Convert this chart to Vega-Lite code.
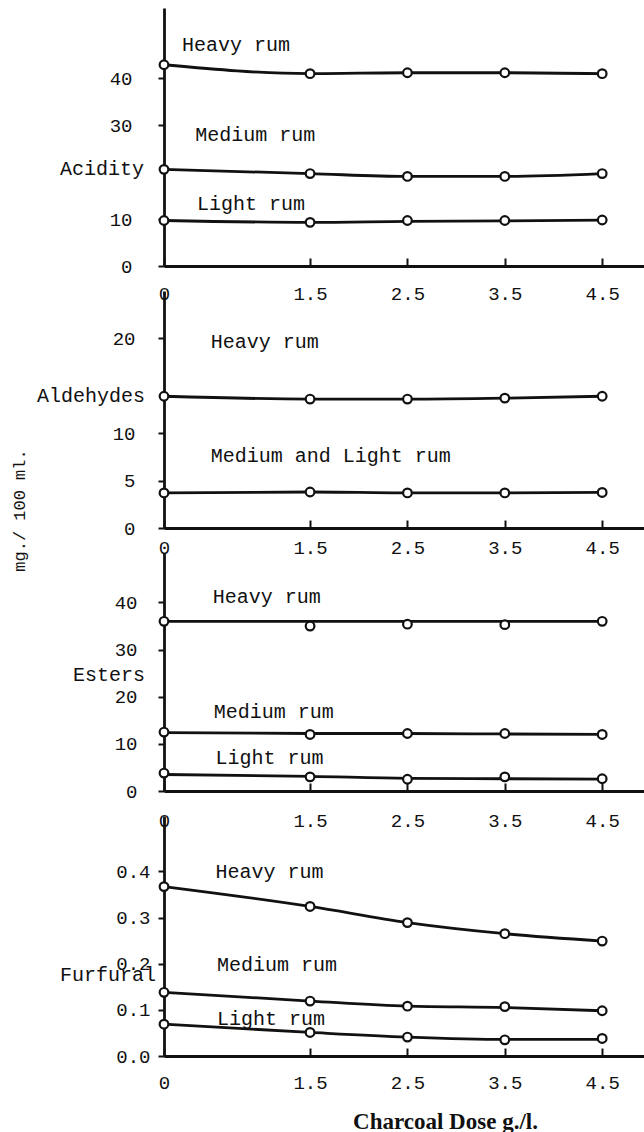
{
  "$schema": "https://vega.github.io/schema/vega-lite/v6.json",
  "background": "white",
  "padding": {"left": 10, "top": 8, "right": 0, "bottom": 0},
  "bounds": "flush",
  "spacing": 25,
  "datasets": {
    "points": [
      {"panel": "Acidity", "series": "Heavy rum", "dose": 0, "value": 42.9, "curve": 42.9},
      {"panel": "Acidity", "series": "Heavy rum", "dose": 1.5, "value": 41.0, "curve": 41.0},
      {"panel": "Acidity", "series": "Heavy rum", "dose": 2.5, "value": 41.2, "curve": 41.2},
      {"panel": "Acidity", "series": "Heavy rum", "dose": 3.5, "value": 41.2, "curve": 41.2},
      {"panel": "Acidity", "series": "Heavy rum", "dose": 4.5, "value": 41.0, "curve": 41.0},
      {"panel": "Acidity", "series": "Medium rum", "dose": 0, "value": 20.6, "curve": 20.6},
      {"panel": "Acidity", "series": "Medium rum", "dose": 1.5, "value": 19.7, "curve": 19.7},
      {"panel": "Acidity", "series": "Medium rum", "dose": 2.5, "value": 19.1, "curve": 19.1},
      {"panel": "Acidity", "series": "Medium rum", "dose": 3.5, "value": 19.1, "curve": 19.1},
      {"panel": "Acidity", "series": "Medium rum", "dose": 4.5, "value": 19.7, "curve": 19.7},
      {"panel": "Acidity", "series": "Light rum", "dose": 0, "value": 9.7, "curve": 9.7},
      {"panel": "Acidity", "series": "Light rum", "dose": 1.5, "value": 9.3, "curve": 9.3},
      {"panel": "Acidity", "series": "Light rum", "dose": 2.5, "value": 9.7, "curve": 9.5},
      {"panel": "Acidity", "series": "Light rum", "dose": 3.5, "value": 9.7, "curve": 9.6},
      {"panel": "Acidity", "series": "Light rum", "dose": 4.5, "value": 9.8, "curve": 9.8},
      {"panel": "Aldehydes", "series": "Heavy rum", "dose": 0, "value": 13.9, "curve": 13.9},
      {"panel": "Aldehydes", "series": "Heavy rum", "dose": 1.5, "value": 13.6, "curve": 13.6},
      {"panel": "Aldehydes", "series": "Heavy rum", "dose": 2.5, "value": 13.6, "curve": 13.6},
      {"panel": "Aldehydes", "series": "Heavy rum", "dose": 3.5, "value": 13.7, "curve": 13.7},
      {"panel": "Aldehydes", "series": "Heavy rum", "dose": 4.5, "value": 13.9, "curve": 13.9},
      {"panel": "Aldehydes", "series": "Medium and Light rum", "dose": 0, "value": 3.7, "curve": 3.7},
      {"panel": "Aldehydes", "series": "Medium and Light rum", "dose": 1.5, "value": 3.8, "curve": 3.8},
      {"panel": "Aldehydes", "series": "Medium and Light rum", "dose": 2.5, "value": 3.7, "curve": 3.7},
      {"panel": "Aldehydes", "series": "Medium and Light rum", "dose": 3.5, "value": 3.7, "curve": 3.7},
      {"panel": "Aldehydes", "series": "Medium and Light rum", "dose": 4.5, "value": 3.75, "curve": 3.75},
      {"panel": "Esters", "series": "Heavy rum", "dose": 0, "value": 36.0, "curve": 36.0},
      {"panel": "Esters", "series": "Heavy rum", "dose": 1.5, "value": 35.0, "curve": 36.0},
      {"panel": "Esters", "series": "Heavy rum", "dose": 2.5, "value": 35.4, "curve": 36.0},
      {"panel": "Esters", "series": "Heavy rum", "dose": 3.5, "value": 35.3, "curve": 36.0},
      {"panel": "Esters", "series": "Heavy rum", "dose": 4.5, "value": 36.0, "curve": 36.0},
      {"panel": "Esters", "series": "Medium rum", "dose": 0, "value": 12.5, "curve": 12.4},
      {"panel": "Esters", "series": "Medium rum", "dose": 1.5, "value": 12.0, "curve": 12.2},
      {"panel": "Esters", "series": "Medium rum", "dose": 2.5, "value": 12.2, "curve": 12.2},
      {"panel": "Esters", "series": "Medium rum", "dose": 3.5, "value": 12.2, "curve": 12.1},
      {"panel": "Esters", "series": "Medium rum", "dose": 4.5, "value": 12.0, "curve": 12.0},
      {"panel": "Esters", "series": "Light rum", "dose": 0, "value": 3.8, "curve": 3.5},
      {"panel": "Esters", "series": "Light rum", "dose": 1.5, "value": 3.0, "curve": 3.1},
      {"panel": "Esters", "series": "Light rum", "dose": 2.5, "value": 2.5, "curve": 2.7},
      {"panel": "Esters", "series": "Light rum", "dose": 3.5, "value": 3.0, "curve": 2.6},
      {"panel": "Esters", "series": "Light rum", "dose": 4.5, "value": 2.6, "curve": 2.5},
      {"panel": "Furfural", "series": "Heavy rum", "dose": 0, "value": 0.367, "curve": 0.367},
      {"panel": "Furfural", "series": "Heavy rum", "dose": 1.5, "value": 0.324, "curve": 0.324},
      {"panel": "Furfural", "series": "Heavy rum", "dose": 2.5, "value": 0.289, "curve": 0.289},
      {"panel": "Furfural", "series": "Heavy rum", "dose": 3.5, "value": 0.265, "curve": 0.265},
      {"panel": "Furfural", "series": "Heavy rum", "dose": 4.5, "value": 0.249, "curve": 0.249},
      {"panel": "Furfural", "series": "Medium rum", "dose": 0, "value": 0.138, "curve": 0.138},
      {"panel": "Furfural", "series": "Medium rum", "dose": 1.5, "value": 0.119, "curve": 0.119},
      {"panel": "Furfural", "series": "Medium rum", "dose": 2.5, "value": 0.108, "curve": 0.108},
      {"panel": "Furfural", "series": "Medium rum", "dose": 3.5, "value": 0.107, "curve": 0.105},
      {"panel": "Furfural", "series": "Medium rum", "dose": 4.5, "value": 0.098, "curve": 0.098},
      {"panel": "Furfural", "series": "Light rum", "dose": 0, "value": 0.069, "curve": 0.069},
      {"panel": "Furfural", "series": "Light rum", "dose": 1.5, "value": 0.051, "curve": 0.051},
      {"panel": "Furfural", "series": "Light rum", "dose": 2.5, "value": 0.041, "curve": 0.041},
      {"panel": "Furfural", "series": "Light rum", "dose": 3.5, "value": 0.035, "curve": 0.036},
      {"panel": "Furfural", "series": "Light rum", "dose": 4.5, "value": 0.038, "curve": 0.036}
    ],
    "notes": [
      {"panel": "Acidity", "kind": "series", "label": "Heavy rum", "dose": 0.185, "value": 47.2},
      {"panel": "Acidity", "kind": "series", "label": "Medium rum", "dose": 0.32, "value": 27.9},
      {"panel": "Acidity", "kind": "series", "label": "Light rum", "dose": 0.34, "value": 13.2},
      {"panel": "Acidity", "kind": "measure", "label": "Acidity", "dose": 0, "value": 20.6},
      {"panel": "Aldehydes", "kind": "series", "label": "Heavy rum", "dose": 0.48, "value": 19.6},
      {"panel": "Aldehydes", "kind": "series", "label": "Medium and Light rum", "dose": 0.48, "value": 7.6},
      {"panel": "Aldehydes", "kind": "measure", "label": "Aldehydes", "dose": 0, "value": 13.9},
      {"panel": "Esters", "kind": "series", "label": "Heavy rum", "dose": 0.5, "value": 41.1},
      {"panel": "Esters", "kind": "series", "label": "Medium rum", "dose": 0.51, "value": 16.8},
      {"panel": "Esters", "kind": "series", "label": "Light rum", "dose": 0.53, "value": 6.9},
      {"panel": "Esters", "kind": "measure", "label": "Esters", "dose": 0, "value": 24.6},
      {"panel": "Furfural", "kind": "series", "label": "Heavy rum", "dose": 0.53, "value": 0.398},
      {"panel": "Furfural", "kind": "series", "label": "Medium rum", "dose": 0.545, "value": 0.197},
      {"panel": "Furfural", "kind": "series", "label": "Light rum", "dose": 0.545, "value": 0.08},
      {"panel": "Furfural", "kind": "measure", "label": "Furfural", "dose": 0, "value": 0.176}
    ]
  },
  "vconcat": [
    {
      "width": 482, "height": 258,
      "layer": [
        {
          "data": {"name": "points"},
          "transform": [{"filter": "datum.panel === 'Acidity'"}],
          "mark": {"type": "line", "interpolate": "monotone", "color": "#111111", "strokeWidth": 2.8},
          "encoding": {
            "x": {"field": "dose", "type": "quantitative", "scale": {"domain": [0, 4.95], "nice": false, "zero": false},
                  "axis": {"values": [0, 1.5, 2.5, 3.5, 4.5], "labelExpr": "datum.value == 0 ? '0' : format(datum.value, '.1f')", "labelPadding": 35, "title": null}},
            "y": {"field": "curve", "type": "quantitative", "scale": {"domain": [0, 55], "nice": false},
                  "axis": {"values": [0, 10, 30, 40], "format": "d", "labelPadding": 26, "title": null}},
            "detail": {"field": "series"}
          }
        },
        {
          "data": {"name": "points"},
          "transform": [{"filter": "datum.panel === 'Acidity'"}],
          "mark": {"type": "point", "shape": "circle", "filled": true, "fill": "white", "stroke": "#111111", "strokeWidth": 2.2, "size": 75, "opacity": 1},
          "encoding": {
            "x": {"field": "dose", "type": "quantitative"},
            "y": {"field": "value", "type": "quantitative"}
          }
        },
        {
          "data": {"name": "notes"},
          "transform": [{"filter": "datum.panel === 'Acidity' && datum.kind === 'series'"}],
          "mark": {"type": "text", "align": "left", "baseline": "middle"},
          "encoding": {
            "x": {"field": "dose", "type": "quantitative"},
            "y": {"field": "value", "type": "quantitative"},
            "text": {"field": "label"}
          }
        },
        {
          "data": {"name": "notes"},
          "transform": [{"filter": "datum.panel === 'Acidity' && datum.kind === 'measure'"}],
          "mark": {"type": "text", "align": "right", "baseline": "middle", "dx": -20},
          "encoding": {
            "x": {"field": "dose", "type": "quantitative"},
            "y": {"field": "value", "type": "quantitative"},
            "text": {"field": "label"}
          }
        }
      ]
    },
    {
      "width": 482, "height": 237,
      "layer": [
        {
          "data": {"name": "points"},
          "transform": [{"filter": "datum.panel === 'Aldehydes'"}],
          "mark": {"type": "line", "interpolate": "monotone", "color": "#111111", "strokeWidth": 2.8},
          "encoding": {
            "x": {"field": "dose", "type": "quantitative", "scale": {"domain": [0, 4.95], "nice": false, "zero": false},
                  "axis": {"values": [0, 1.5, 2.5, 3.5, 4.5], "labelExpr": "datum.value == 0 ? '0' : format(datum.value, '.1f')", "labelPadding": 27, "title": null}},
            "y": {"field": "curve", "type": "quantitative", "scale": {"domain": [0, 25], "nice": false},
                  "axis": {"values": [0, 5, 10, 20], "format": "d", "labelPadding": 23,
                           "title": "mg./ 100 ml.", "titleX": -145, "titleY": 219, "titleBaseline": "middle", "titleAlign": "center",
                           "titleFont": "Liberation Mono", "titleFontSize": 17, "titleFontWeight": "normal", "titleColor": "#111111"}},
            "detail": {"field": "series"}
          }
        },
        {
          "data": {"name": "points"},
          "transform": [{"filter": "datum.panel === 'Aldehydes'"}],
          "mark": {"type": "point", "shape": "circle", "filled": true, "fill": "white", "stroke": "#111111", "strokeWidth": 2.2, "size": 75, "opacity": 1},
          "encoding": {
            "x": {"field": "dose", "type": "quantitative"},
            "y": {"field": "value", "type": "quantitative"}
          }
        },
        {
          "data": {"name": "notes"},
          "transform": [{"filter": "datum.panel === 'Aldehydes' && datum.kind === 'series'"}],
          "mark": {"type": "text", "align": "left", "baseline": "middle"},
          "encoding": {
            "x": {"field": "dose", "type": "quantitative"},
            "y": {"field": "value", "type": "quantitative"},
            "text": {"field": "label"}
          }
        },
        {
          "data": {"name": "notes"},
          "transform": [{"filter": "datum.panel === 'Aldehydes' && datum.kind === 'measure'"}],
          "mark": {"type": "text", "align": "right", "baseline": "middle", "dx": -19},
          "encoding": {
            "x": {"field": "dose", "type": "quantitative"},
            "y": {"field": "value", "type": "quantitative"},
            "text": {"field": "label"}
          }
        }
      ]
    },
    {
      "width": 482, "height": 238,
      "layer": [
        {
          "data": {"name": "points"},
          "transform": [{"filter": "datum.panel === 'Esters'"}],
          "mark": {"type": "line", "interpolate": "monotone", "color": "#111111", "strokeWidth": 2.8},
          "encoding": {
            "x": {"field": "dose", "type": "quantitative", "scale": {"domain": [0, 4.95], "nice": false, "zero": false},
                  "axis": {"values": [0, 1.5, 2.5, 3.5, 4.5], "labelExpr": "datum.value == 0 ? '0' : format(datum.value, '.1f')", "labelPadding": 37, "title": null}},
            "y": {"field": "curve", "type": "quantitative", "scale": {"domain": [0, 50.5], "nice": false},
                  "axis": {"values": [0, 10, 20, 30, 40], "format": "d", "labelPadding": 21, "title": null}},
            "detail": {"field": "series"}
          }
        },
        {
          "data": {"name": "points"},
          "transform": [{"filter": "datum.panel === 'Esters'"}],
          "mark": {"type": "point", "shape": "circle", "filled": true, "fill": "white", "stroke": "#111111", "strokeWidth": 2.2, "size": 75, "opacity": 1},
          "encoding": {
            "x": {"field": "dose", "type": "quantitative"},
            "y": {"field": "value", "type": "quantitative"}
          }
        },
        {
          "data": {"name": "notes"},
          "transform": [{"filter": "datum.panel === 'Esters' && datum.kind === 'series'"}],
          "mark": {"type": "text", "align": "left", "baseline": "middle"},
          "encoding": {
            "x": {"field": "dose", "type": "quantitative"},
            "y": {"field": "value", "type": "quantitative"},
            "text": {"field": "label"}
          }
        },
        {
          "data": {"name": "notes"},
          "transform": [{"filter": "datum.panel === 'Esters' && datum.kind === 'measure'"}],
          "mark": {"type": "text", "align": "right", "baseline": "middle", "dx": -19},
          "encoding": {
            "x": {"field": "dose", "type": "quantitative"},
            "y": {"field": "value", "type": "quantitative"},
            "text": {"field": "label"}
          }
        }
      ]
    },
    {
      "width": 482, "height": 240,
      "layer": [
        {
          "data": {"name": "points"},
          "transform": [{"filter": "datum.panel === 'Furfural'"}],
          "mark": {"type": "line", "interpolate": "monotone", "color": "#111111", "strokeWidth": 2.8},
          "encoding": {
            "x": {"field": "dose", "type": "quantitative", "scale": {"domain": [0, 4.95], "nice": false, "zero": false},
                  "axis": {"values": [0, 1.5, 2.5, 3.5, 4.5], "labelExpr": "datum.value == 0 ? '0' : format(datum.value, '.1f')", "labelPadding": 34,
                           "title": "Charcoal Dose g./l.", "titleX": 281, "titleY": 65, "titleBaseline": "middle", "titleAlign": "center",
                           "titleFont": "Liberation Serif", "titleFontSize": 23, "titleFontWeight": "bold", "titleColor": "#111111"}},
            "y": {"field": "curve", "type": "quantitative", "scale": {"domain": [0, 0.52], "nice": false},
                  "axis": {"values": [0, 0.1, 0.2, 0.3, 0.4], "format": ".1f", "labelPadding": 8, "title": null}},
            "detail": {"field": "series"}
          }
        },
        {
          "data": {"name": "points"},
          "transform": [{"filter": "datum.panel === 'Furfural'"}],
          "mark": {"type": "point", "shape": "circle", "filled": true, "fill": "white", "stroke": "#111111", "strokeWidth": 2.2, "size": 75, "opacity": 1},
          "encoding": {
            "x": {"field": "dose", "type": "quantitative"},
            "y": {"field": "value", "type": "quantitative"}
          }
        },
        {
          "data": {"name": "notes"},
          "transform": [{"filter": "datum.panel === 'Furfural' && datum.kind === 'series'"}],
          "mark": {"type": "text", "align": "left", "baseline": "middle"},
          "encoding": {
            "x": {"field": "dose", "type": "quantitative"},
            "y": {"field": "value", "type": "quantitative"},
            "text": {"field": "label"}
          }
        },
        {
          "data": {"name": "notes"},
          "transform": [{"filter": "datum.panel === 'Furfural' && datum.kind === 'measure'"}],
          "mark": {"type": "text", "align": "right", "baseline": "middle", "dx": -8},
          "encoding": {
            "x": {"field": "dose", "type": "quantitative"},
            "y": {"field": "value", "type": "quantitative"},
            "text": {"field": "label"}
          }
        }
      ]
    }
  ],
  "config": {
    "view": {"stroke": null},
    "font": "Liberation Mono",
    "axis": {
      "domainColor": "#111111", "domainWidth": 2.8, "tickColor": "#111111", "tickWidth": 2, "grid": false,
      "labelFont": "Liberation Mono", "labelFontSize": 19, "labelColor": "#111111", "labelFlush": false, "labelOverlap": false
    },
    "axisX": {"tickSize": -8, "labelBaseline": "middle"},
    "axisY": {"tickSize": 6},
    "text": {"font": "Liberation Mono", "fontSize": 20, "color": "#111111"}
  }
}
